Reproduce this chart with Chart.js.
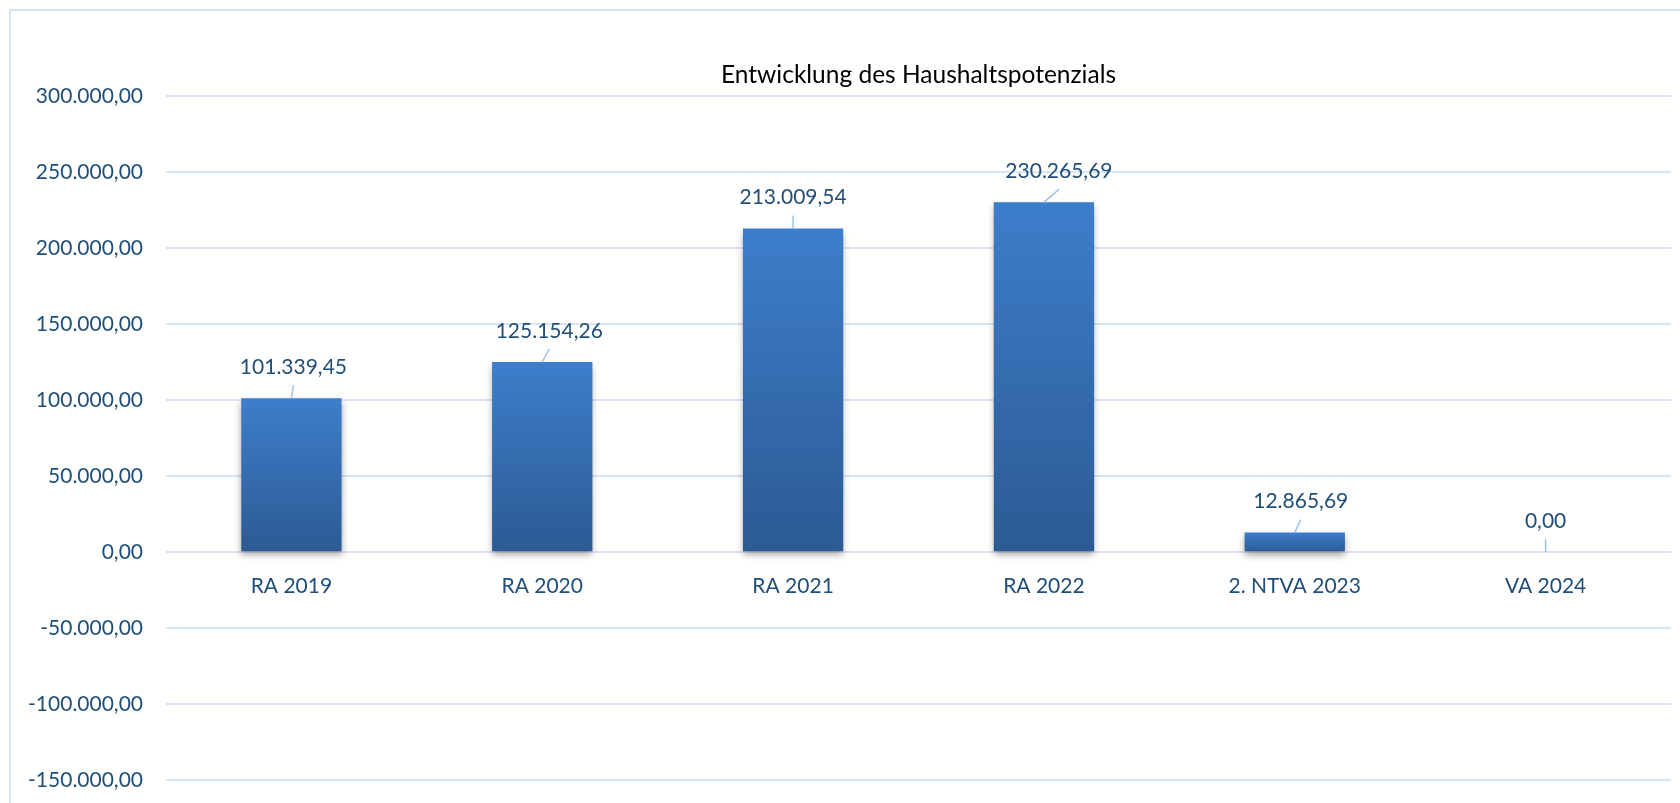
<!DOCTYPE html>
<html>
<head>
<meta charset="utf-8">
<script src="https://cdn.jsdelivr.net/npm/chart.js@4.4.1/dist/chart.umd.min.js"></script>
<style>
    html, body { margin: 0; padding: 0; background: #fff; overflow: hidden; }
    #frame {
        position: absolute; left: 9px; top: 9px;
        width: 1800px; height: 900px;
        border-left: 2px solid #dae4f2; border-top: 2px solid #dae4f2;
    }
    #wrap { position: absolute; left: 0; top: 0; width: 1680px; height: 803px; }
</style>
</head>
<body>
<div id="frame"></div>
<div id="wrap"><canvas id="chart"></canvas></div>
<script>
const categories = ['RA 2019', 'RA 2020', 'RA 2021', 'RA 2022', '2. NTVA 2023', 'VA 2024'];
const values = [101339.45, 125154.26, 213009.54, 230265.69, 12865.69, 0];
const yTicks = [-150000, -100000, -50000, 0, 50000, 100000, 150000, 200000, 250000, 300000];

// small sideways shift of each value label, like in the original
const labelNudge = [2, 7, 0, 15, 6, 0];

const textBlue = '#1f4e79';
const gridBlue = '#d9e4f4';

const fmt = (v) => {
    const neg = v < 0;
    let [int, dec] = Math.abs(v).toFixed(2).split('.');
    int = int.replace(/\B(?=(\d{3})+(?!\d))/g, '.');
    return (neg ? '-' : '') + int + ',' + dec;
}

const barFill = (c) => {
    const chart = c.chart;
    if (!chart.chartArea || c.type !== 'data') return '#3a78c2';
    const y = chart.scales.y;
    const top = y.getPixelForValue(c.raw);
    const base = y.getPixelForValue(0);
    if (Math.abs(base - top) < 1) return '#3a78c2';
    const g = chart.ctx.createLinearGradient(0, top, 0, base);
    g.addColorStop(0, '#3d7ecb');
    g.addColorStop(1, '#2c5a94');
    return g;
}

const shadowPlugin = {
    id: 'barShadow',
    beforeDatasetDraw: (chart) => {
        const ctx = chart.ctx;
        ctx.save();
        ctx.shadowColor = 'rgba(0,0,0,0.35)';
        ctx.shadowBlur = 7;
        ctx.shadowOffsetY = 4;
    },
    afterDatasetDraw: (chart) => {
        chart.ctx.restore();
    }
}

const valueLabels = {
    id: 'valueLabels',
    afterDatasetsDraw: (chart) => {
        const ctx = chart.ctx;
        const meta = chart.getDatasetMeta(0);
        ctx.save();
        meta.data.forEach((bar, i) => {
            const lx = bar.x + labelNudge[i];
            const ly = bar.y - 31;
            ctx.strokeStyle = '#9dc3e6';
            ctx.lineWidth = 1.5;
            ctx.beginPath();
            ctx.moveTo(bar.x, bar.y);
            ctx.lineTo(lx, ly + 18);
            ctx.stroke();
            ctx.fillStyle = textBlue;
            ctx.font = '21px Lato';
            ctx.textAlign = 'center';
            ctx.textBaseline = 'middle';
            ctx.fillText(fmt(values[i]), lx, ly);
        });
        ctx.restore();
    }
}

const ctx = document.getElementById('chart').getContext('2d');

new Chart(ctx, {
    type: 'bar',
    data: {
        labels: categories,
        datasets: [{
            data: values,
            backgroundColor: barFill,
            borderWidth: 0,
            categoryPercentage: 1,
            barPercentage: 0.4
        }]
    },
    options: {
        responsive: true,
        maintainAspectRatio: false,
        animation: false,
        layout: { padding: { left: 0, right: 9, top: 0, bottom: 23 } },
        plugins: {
            legend: { display: false },
            tooltip: { enabled: false },
            title: {
                display: true,
                text: 'Entwicklung des Haushaltspotenzials',
                fullSize: false,
                color: '#000',
                font: { family: 'Lato', size: 24.5, weight: 'normal' },
                padding: { top: 60, bottom: 7 }
            }
        },
        scales: {
            x: {
                position: { y: 0 },
                grid: { display: false, drawTicks: false },
                border: { display: false },
                ticks: {
                    color: textBlue,
                    font: { family: 'Lato', size: 21 },
                    padding: 22
                }
            },
            y: {
                min: yTicks[0],
                max: yTicks[yTicks.length - 1],
                afterBuildTicks: (scale) => {
                    scale.ticks = yTicks.map(v => ({ value: v }));
                },
                afterFit: (scale) => {
                    scale.width = 166;
                    scale.paddingTop = 0;
                    scale.paddingBottom = 0;
                },
                grid: { color: gridBlue, lineWidth: 2, drawTicks: false },
                border: { display: false },
                ticks: {
                    color: textBlue,
                    font: { family: 'Lato', size: 21 },
                    padding: 23,
                    callback: (v) => fmt(v)
                }
            }
        }
    },
    plugins: [shadowPlugin, valueLabels]
});
</script>
</body>
</html>
